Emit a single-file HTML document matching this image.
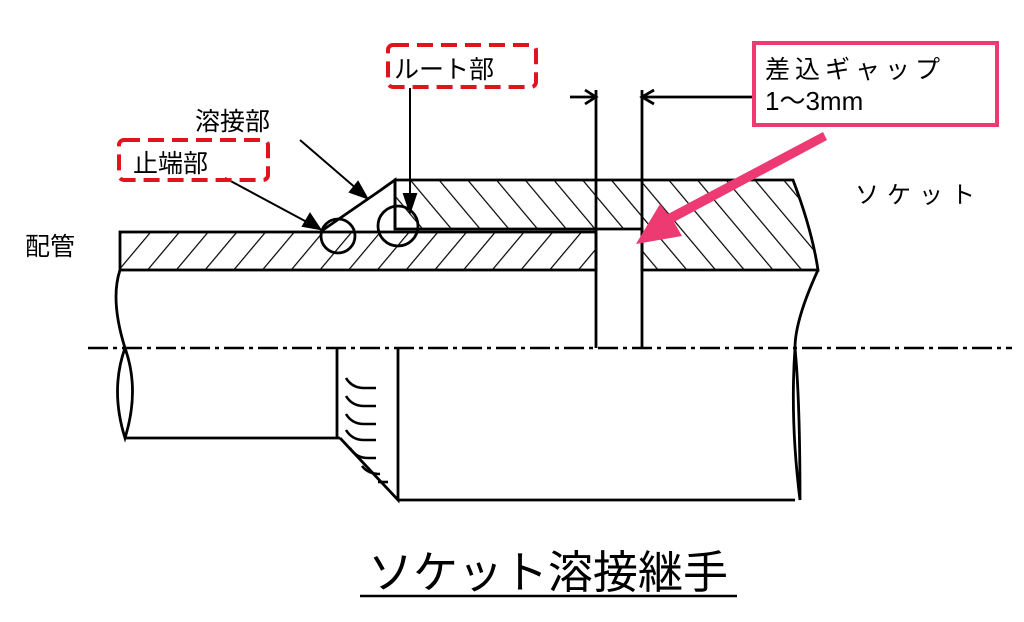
<!DOCTYPE html>
<html><head><meta charset="utf-8"><style>
html,body{margin:0;padding:0;background:#fff;}
svg{display:block;}
text{font-family:"Liberation Sans","Noto Sans CJK JP",sans-serif;}
</style></head><body>
<svg width="1024" height="622" viewBox="0 0 1024 622" xmlns="http://www.w3.org/2000/svg">
<defs>
<pattern id="h1" width="22" height="22" patternUnits="userSpaceOnUse" patternTransform="rotate(40)">
<line x1="0" y1="0" x2="0" y2="22" stroke="#000" stroke-width="2.4"/></pattern>
<pattern id="h2" width="22" height="22" patternUnits="userSpaceOnUse" patternTransform="rotate(-40)">
<line x1="0" y1="0" x2="0" y2="22" stroke="#000" stroke-width="2.4"/></pattern>
</defs>
<g fill="none" stroke="#000" stroke-width="2.8">
<rect x="120" y="232" width="476" height="38" fill="url(#h1)"/>
<path d="M320 232 L378 192 L395 180 L395 229"/>
<path d="M395 180 L793 180 Q812 230 818 270 L642 270 L642 229 L395 229 Z" fill="url(#h2)"/>
<circle cx="338" cy="236" r="17" fill="none"/>
<circle cx="398" cy="226" r="20" fill="none"/>
<line x1="596" y1="90" x2="596" y2="348"/>
<line x1="642" y1="90" x2="642" y2="348"/>
<line x1="570" y1="97" x2="596" y2="97"/>
<path d="M585 90 L596 97 L585 104"/>
<line x1="642" y1="97" x2="755" y2="97"/>
<path d="M654 90 L642 97 L654 104"/>
<path d="M120 270 Q110 300 125 348 Q140 390 125 438 Q110 390 125 348"/>
<line x1="125" y1="438" x2="340" y2="438"/>
<line x1="337" y1="348" x2="337" y2="438"/>
<path d="M340 438 L398 500 L398 348"/>
<line x1="398" y1="500" x2="795" y2="500"/>
<path d="M818 270 Q795 320 795 348 Q800 400 800 500 Q790 420 795 348"/>
<g stroke-width="2.6">
<path d="M346 378 q6 10 18 10 h12"/><path d="M346 396 q6 10 18 10 h12"/><path d="M346 414 q6 10 18 10 h12"/><path d="M346 430 q6 10 18 10 h12"/><path d="M350 448 q6 10 18 10 h8"/><path d="M362 466 q6 8 18 8"/><path d="M378 482 h10"/>
</g>
</g>
<line x1="88" y1="348" x2="1012" y2="348" stroke="#000" stroke-width="2.5" stroke-dasharray="20 5 4 5"/>
<g stroke="#000" stroke-width="2" fill="#000">
<line x1="225" y1="178" x2="318" y2="228"/><path d="M320 229 L303 226 L310 214 Z"/>
<line x1="300" y1="140" x2="365" y2="196"/><path d="M367 198 L350 192 L358 182 Z"/>
<line x1="410" y1="88" x2="410" y2="208"/><path d="M404 194 L410 212 L416 194 Z"/>
</g>
<text x="25" y="255" font-size="25">配管</text>
<text x="855" y="203" font-size="24" letter-spacing="8">ソケット</text>
<text x="195" y="130" font-size="25">溶接部</text>
<rect x="119" y="140" width="149" height="40" rx="5" fill="none" stroke="#e0141e" stroke-width="4" stroke-dasharray="16 8"/>
<text x="133" y="172" font-size="25">止端部</text>
<rect x="388" y="45" width="148" height="42" rx="5" fill="none" stroke="#e0141e" stroke-width="4" stroke-dasharray="16 8"/>
<text x="394" y="78" font-size="25">ルート部</text>
<rect x="754" y="43" width="243" height="82" fill="#fff" stroke="#ee3a72" stroke-width="4"/>
<text x="765" y="78" font-size="25" letter-spacing="5">差込ギャップ</text>
<text x="765" y="110" font-size="26" font-family="Liberation Serif,serif">1～3mm</text>
<path d="M823 132 L827 140 L674 222 L682 236 L636 244 L660 204 L668 214 Z" fill="#ee3a72"/>
<text x="548" y="588" font-size="45" text-anchor="middle">ソケット溶接継手</text>
<line x1="360" y1="596" x2="737" y2="596" stroke="#000" stroke-width="2.5"/>
</svg>
</body></html>
